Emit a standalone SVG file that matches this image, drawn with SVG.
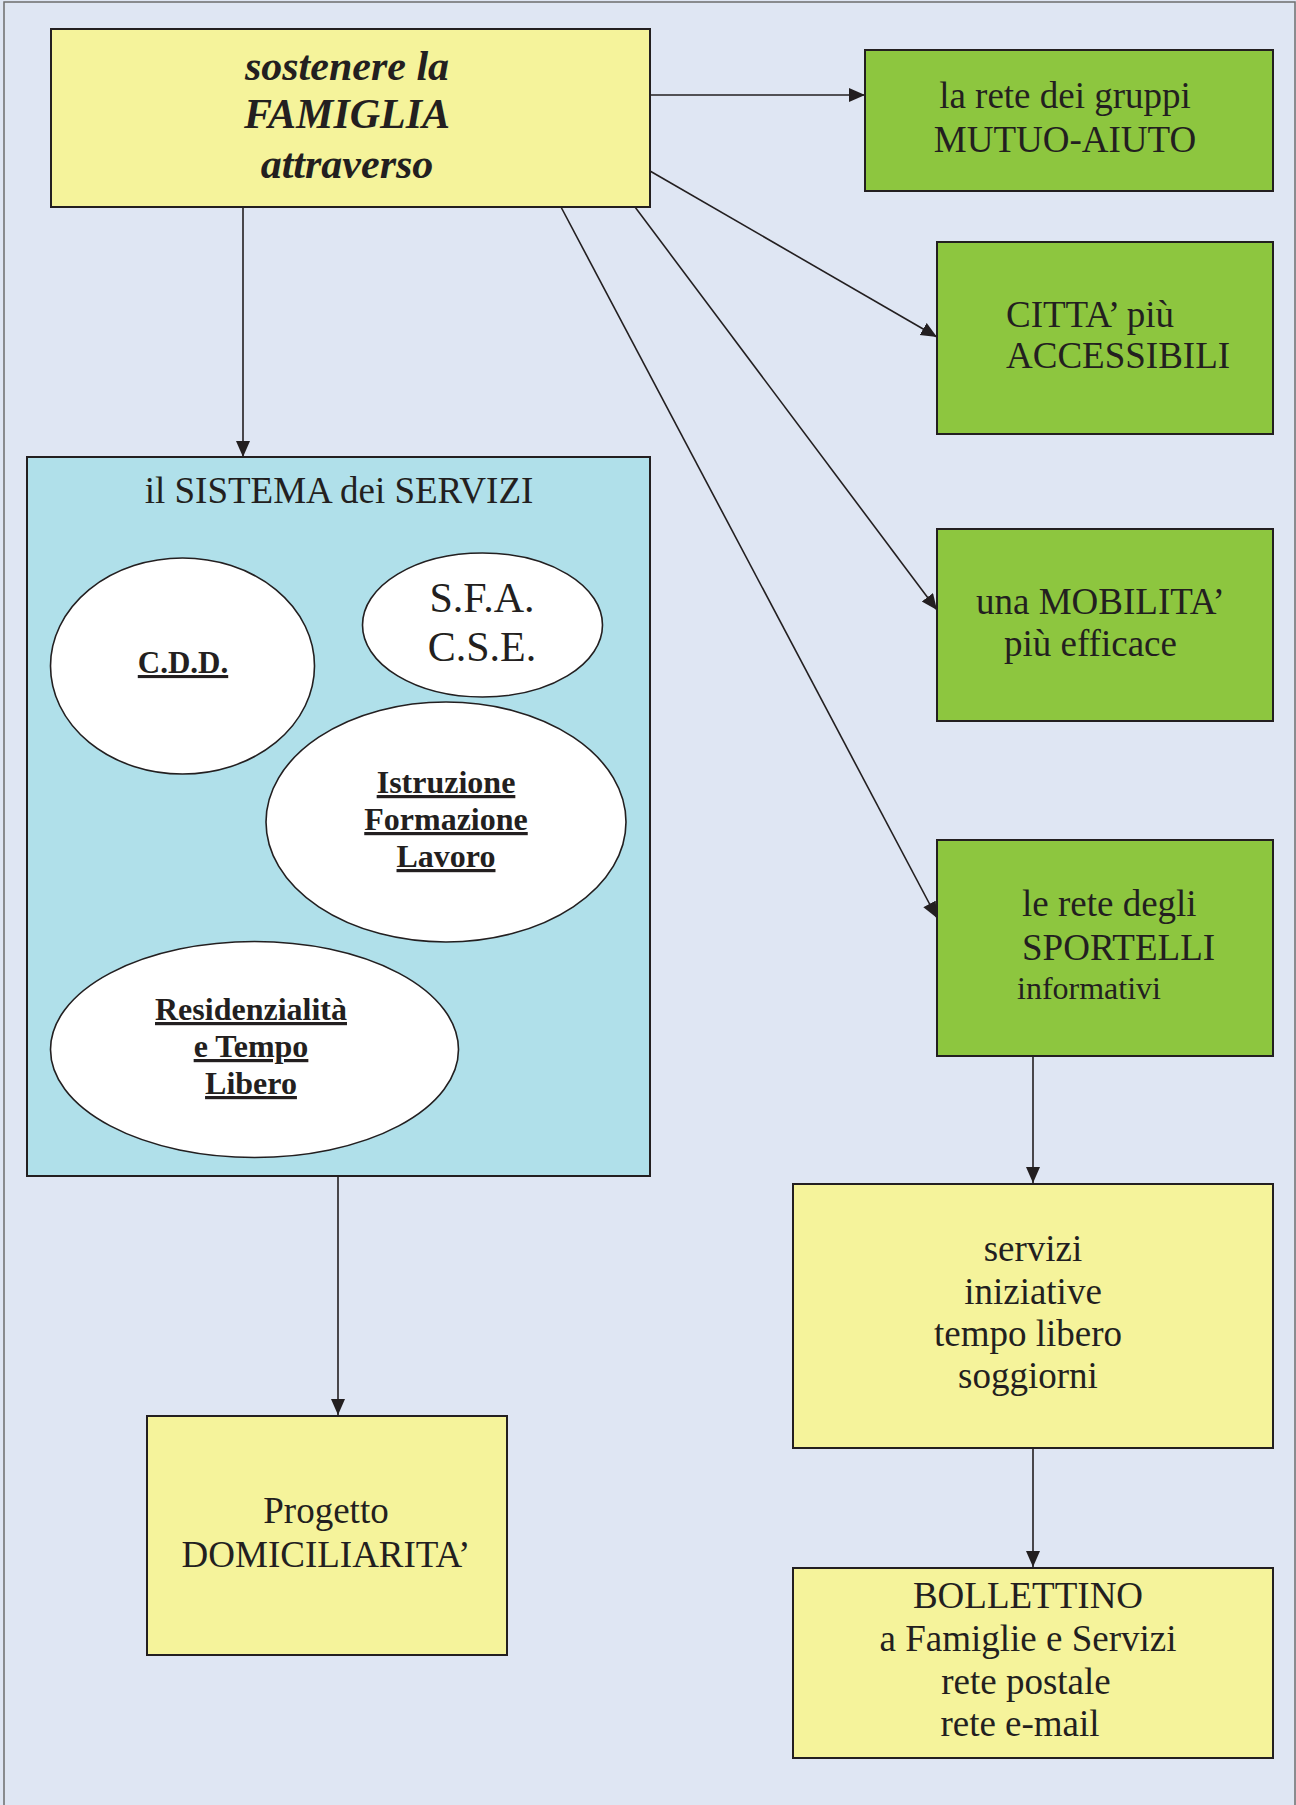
<svg xmlns="http://www.w3.org/2000/svg" width="1296" height="1805" viewBox="0 0 1296 1805">
<defs>
<style>
.box{stroke:#231F20;stroke-width:2}
.yel{fill:#F5F39B}
.grn{fill:#8DC63F}
.cyan{fill:#B0E0EA}
.ell{fill:#FFFFFF;stroke:#231F20;stroke-width:1.6}
.t{font-family:"Liberation Serif","Times New Roman",serif;fill:#231F20}
.m{font-size:37px}
.c{text-anchor:middle}
.b{font-weight:bold;text-decoration:underline}
.h{font-size:42px;font-weight:bold;font-style:italic}
.con{stroke:#231F20;stroke-width:1.6;fill:none;marker-end:url(#arr)}
</style>
<marker id="arr" markerUnits="userSpaceOnUse" markerWidth="17" markerHeight="15" refX="16" refY="7" orient="auto">
<path d="M0,0 L16,7 L0,14 z" fill="#231F20"/>
</marker>
</defs>
<rect x="0" y="0" width="1296" height="1805" fill="#DFE6F3"/>
<rect x="4" y="2" width="1291" height="1815" fill="none" stroke="#6E6E6E" stroke-width="1.5"/>

<g id="connectors">
<line class="con" x1="243" y1="207" x2="243" y2="457"/>
<line class="con" x1="650" y1="95" x2="865" y2="95"/>
<line class="con" x1="650" y1="171" x2="937" y2="337"/>
<line class="con" x1="635" y1="207" x2="937" y2="610"/>
<line class="con" x1="561" y1="207" x2="937" y2="918"/>
<line class="con" x1="1033" y1="1056" x2="1033" y2="1183"/>
<line class="con" x1="1033" y1="1448" x2="1033" y2="1567"/>
<line class="con" x1="338" y1="1176" x2="338" y2="1415"/>
</g>

<g id="famiglia">
<rect class="box yel" x="51" y="29" width="599" height="178"/>
<text class="t c h" x="347" y="80">sostenere la</text>
<text class="t c h" x="347" y="128">FAMIGLIA</text>
<text class="t c h" x="347" y="178">attraverso</text>
</g>

<g id="mutuo">
<rect class="box grn" x="865" y="50" width="408" height="141"/>
<text class="t m c" x="1065" y="108">la rete dei gruppi</text>
<text class="t m c" x="1065" y="152">MUTUO-AIUTO</text>
</g>

<g id="citta">
<rect class="box grn" x="937" y="242" width="336" height="192"/>
<text class="t m" x="1006" y="327">CITTA’ più</text>
<text class="t m" x="1006" y="368">ACCESSIBILI</text>
</g>

<g id="mobilita">
<rect class="box grn" x="937" y="529" width="336" height="192"/>
<text class="t m" x="976" y="614">una MOBILITA’</text>
<text class="t m" x="1004" y="656">più efficace</text>
</g>

<g id="sportelli">
<rect class="box grn" x="937" y="840" width="336" height="216"/>
<text class="t m" x="1022" y="916">le rete degli</text>
<text class="t m" x="1022" y="960">SPORTELLI</text>
<text class="t" x="1017" y="999" style="font-size:32px">informativi</text>
</g>

<g id="sistema">
<rect class="box cyan" x="27" y="457" width="623" height="719"/>
<text class="t m c" x="339" y="503">il SISTEMA dei SERVIZI</text>
</g>

<g id="cdd">
<ellipse class="ell" cx="182.5" cy="666" rx="132" ry="108"/>
<text class="t c b" x="183" y="673" style="font-size:31px">C.D.D.</text>
</g>

<g id="sfa">
<ellipse class="ell" cx="482.5" cy="625" rx="120" ry="72"/>
<text class="t c" x="482" y="612" style="font-size:42px">S.F.A.</text>
<text class="t c" x="482" y="661" style="font-size:42px">C.S.E.</text>
</g>

<g id="istruzione">
<ellipse class="ell" cx="446" cy="822" rx="180" ry="120"/>
<text class="t c b" x="446" y="793" style="font-size:32px">Istruzione</text>
<text class="t c b" x="446" y="830" style="font-size:32px">Formazione</text>
<text class="t c b" x="446" y="867" style="font-size:32px">Lavoro</text>
</g>

<g id="residenzialita">
<ellipse class="ell" cx="254.5" cy="1049.5" rx="204" ry="108"/>
<text class="t c b" x="251" y="1020" style="font-size:32px">Residenzialità</text>
<text class="t c b" x="251" y="1057" style="font-size:32px">e Tempo</text>
<text class="t c b" x="251" y="1094" style="font-size:32px">Libero</text>
</g>

<g id="progetto">
<rect class="box yel" x="147" y="1416" width="360" height="239"/>
<text class="t m c" x="326" y="1523">Progetto</text>
<text class="t m c" x="326" y="1567">DOMICILIARITA’</text>
</g>

<g id="servizi">
<rect class="box yel" x="793" y="1184" width="480" height="264"/>
<text class="t m c" x="1033" y="1261">servizi</text>
<text class="t m c" x="1033" y="1304">iniziative</text>
<text class="t m c" x="1028" y="1346">tempo libero</text>
<text class="t m c" x="1028" y="1388">soggiorni</text>
</g>

<g id="bollettino">
<rect class="box yel" x="793" y="1568" width="480" height="190"/>
<text class="t m c" x="1028" y="1608">BOLLETTINO</text>
<text class="t m c" x="1028" y="1651">a Famiglie e Servizi</text>
<text class="t m c" x="1026" y="1694">rete postale</text>
<text class="t m c" x="1020" y="1736">rete e-mail</text>
</g>
</svg>
